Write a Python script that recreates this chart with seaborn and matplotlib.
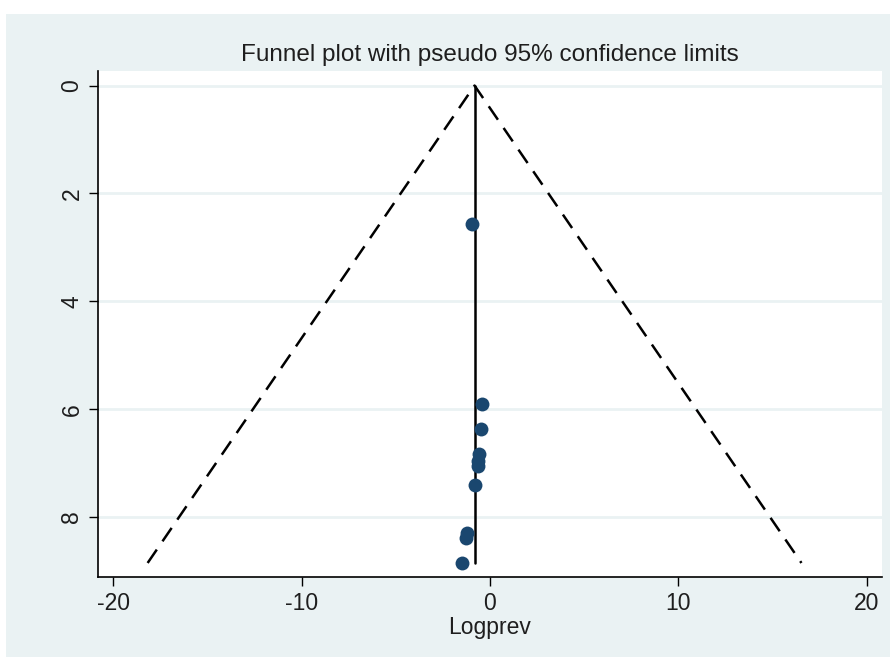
import numpy as np
import pandas as pd
import matplotlib
matplotlib.use("Agg")
import matplotlib.pyplot as plt
from matplotlib.patches import Rectangle
import seaborn as sns

# -----------------------------------------------------
# data
# -----------------------------------------------------
logprev = [-0.98, -0.40, -0.50, -0.61, -0.64, -0.66, -0.77, -1.20, -1.25, -1.51]
se_logprev = [2.57, 5.91, 6.37, 6.83, 6.96, 7.06, 7.41, 8.30, 8.39, 8.85]
pooled_mean = -0.82
se_max = 8.85
x_ticks = [-20, -10, 0, 10, 20]
y_ticks = [0, 2, 4, 6, 8]

BG = "#eaf2f3"
NAVY = "#1a476f"

df = pd.DataFrame({"Logprev": logprev, "se": se_logprev})

sns.set_style("white")
plt.rcParams["font.family"] = ["Liberation Sans", "DejaVu Sans"]
plt.rcParams["axes.unicode_minus"] = False

fig = plt.figure(figsize=(8.9, 6.57), dpi=100)
fig.patch.set_facecolor("white")
fig.patches.append(Rectangle((6 / 890, 0), 1, 1 - 14 / 657, transform=fig.transFigure,
                             facecolor=BG, edgecolor="none", zorder=-10))
ax = fig.add_axes([98 / 890, 1 - 577 / 657, (882 - 98) / 890, (577 - 71) / 657])
ax.set_facecolor("white")

# horizontal gridlines
for yt in y_ticks:
    ax.axhline(yt, color=BG, lw=2, zorder=0)

# pseudo 95% limits
lo = pooled_mean - 1.96 * se_max
hi = pooled_mean + 1.96 * se_max
ax.plot([lo, pooled_mean, hi], [se_max, 0, se_max], color="black", lw=1.8,
        dashes=(6.5, 4), zorder=2)
ax.plot([pooled_mean, pooled_mean], [0, se_max], color="black", lw=1.8, zorder=2)

sns.scatterplot(data=df, x="Logprev", y="se", ax=ax, color=NAVY, s=100,
                edgecolor=NAVY, linewidth=0, zorder=3)

ax.set_xlim(-20.8, 20.8)
ax.set_ylim(9.11, -0.27)
ax.set_xticks(x_ticks)
ax.set_yticks(y_ticks)
ax.set_yticklabels([str(v) for v in y_ticks], rotation=90, va="center")
ax.tick_params(axis="both", direction="out", length=6.5, width=1, color="black",
               labelsize=16.5, labelcolor="#1e1e1e", pad=4, left=True, bottom=True)

for side in ["top", "right"]:
    ax.spines[side].set_visible(False)
for side in ["left", "bottom"]:
    ax.spines[side].set_color("black")
    ax.spines[side].set_linewidth(1.2)

ax.set_xlabel("Logprev", fontsize=16.5, color="#1e1e1e", labelpad=1)
ax.set_ylabel("")
fig.text((98 + 882) / 2 / 890, 1 - 55 / 657, "Funnel plot with pseudo 95% confidence limits",
         ha="center", va="center", fontsize=17.5, color="#1e1e1e")

fig.savefig("out.png", dpi=100, facecolor=fig.get_facecolor())
